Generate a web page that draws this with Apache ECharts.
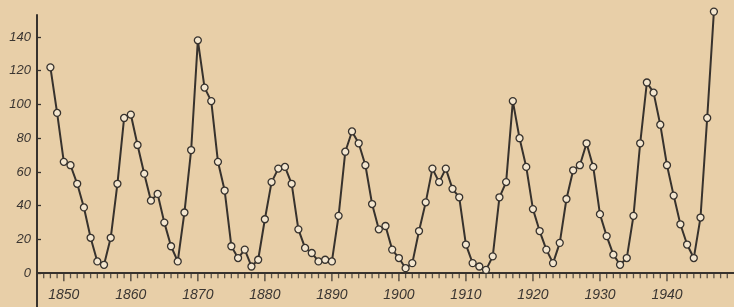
<!DOCTYPE html>
<html>
<head>
<meta charset="utf-8">
<script src="https://cdn.jsdelivr.net/npm/echarts@6/dist/echarts.min.js"></script>
<style>
  html, body { margin: 0; padding: 0; background: #e8cfa8; }
  #chart { width: 734px; height: 307px; }
</style>
</head>
<body>
<div id="chart"></div>
<script>
    // yearly values
    var years = [];
    for (var y = 1848; y <= 1947; y++) years.push(y);
    var spots = [
        122, 95, 66, 64, 53, 39, 21, 7, 5, 21,
        53, 92, 94, 76, 59, 43, 47, 30, 16, 7,
        36, 73, 138, 110, 102, 66, 49, 16, 9, 14,
        4, 8, 32, 54, 62, 63, 53, 26, 15, 12,
        7, 8, 7, 34, 72, 84, 77, 64, 41, 26,
        28, 14, 9, 3, 6, 25, 42, 62, 54, 62,
        50, 45, 17, 6, 4, 2, 10, 45, 54, 102,
        80, 63, 38, 25, 14, 6, 18, 44, 61, 64,
        77, 63, 35, 22, 11, 5, 9, 34, 77, 113,
        107, 88, 64, 46, 29, 17, 9, 33, 92, 155
    ];
    var decadeLabels = [1850, 1860, 1870, 1880, 1890, 1900, 1910, 1920, 1930, 1940];
    var yTicks = [0, 20, 40, 60, 80, 100, 120, 140];

    var ink = '#37322d';
    var points = years.map(function (yr, i) { return [yr, spots[i]]; });
    var yearTicks = [];
    for (var t = 1847; t <= 1949; t++) { if (t % 10 !== 0) yearTicks.push([t, 0]); }
    var decadeTicks = decadeLabels.map(function (d) { return [d, 0]; });

    var chart = echarts.init(document.getElementById('chart'));
    var option = {
        backgroundColor: '#e8cfa8',
        animation: false,
        grid: { left: 37, right: 0, top: 15, bottom: 0, containLabel: false, outerBoundsMode: 'none' },
        xAxis: {
            type: 'value',
            min: 1846,
            max: 1950,
            splitLine: { show: false },
            axisLine: { onZero: true, lineStyle: { color: ink, width: 2 } },
            axisTick: { show: false },
            axisLabel: {
                customValues: decadeLabels,
                formatter: function (v) { return String(v); },
                color: '#3a3531',
                fontFamily: 'Liberation Sans',
                fontStyle: 'italic',
                fontSize: 14,
                margin: -19
            }
        },
        yAxis: {
            type: 'value',
            min: -20,
            max: 153,
            splitLine: { show: false },
            axisLine: { show: true, onZero: false, lineStyle: { color: ink, width: 2 } },
            axisTick: { show: true, inside: true, length: 4, customValues: yTicks, lineStyle: { color: ink, width: 1.3 } },
            axisLabel: {
                customValues: yTicks,
                color: '#3a3531',
                fontFamily: 'Liberation Sans',
                fontStyle: 'italic',
                fontSize: 13,
                margin: 6
            }
        },
        series: [
            {
                // yearly ticks hanging under the x axis
                type: 'scatter',
                data: yearTicks,
                silent: true,
                symbol: 'rect',
                symbolSize: [1.3, 5],
                symbolOffset: [0, 2.5],
                itemStyle: { color: ink },
                z: 1
            },
            {
                // decade ticks, a bit longer
                type: 'scatter',
                data: decadeTicks,
                silent: true,
                symbol: 'rect',
                symbolSize: [1.5, 8],
                symbolOffset: [0, 4],
                itemStyle: { color: ink },
                z: 1
            },
            {
                type: 'line',
                data: points,
                clip: false,
                symbol: 'circle',
                symbolSize: 7,
                lineStyle: { color: ink, width: 2 },
                itemStyle: { color: '#f3e6cf', borderColor: ink, borderWidth: 1.3 },
                z: 3
            }
        ]
    };
    chart.setOption(option);
</script>
</body>
</html>
